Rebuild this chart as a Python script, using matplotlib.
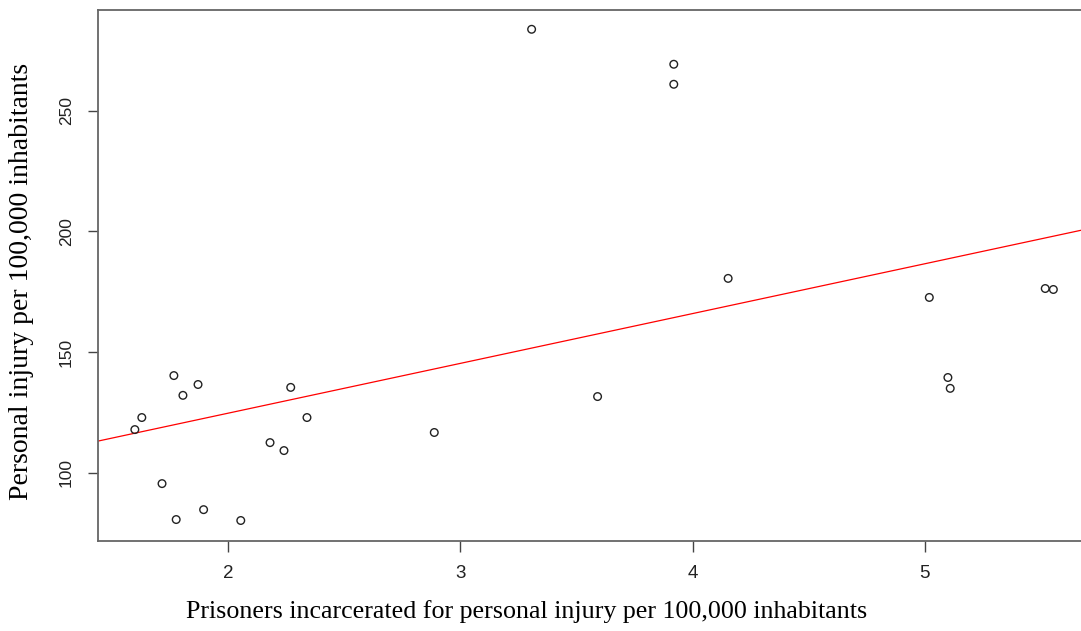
import matplotlib
matplotlib.use("Agg")
import matplotlib.pyplot as plt
import numpy as np

# prisoners incarcerated for personal injury per 100,000 inhabitants
prisoners = [1.599, 1.629, 1.767, 1.806, 1.871, 1.716, 1.777, 1.895, 2.055,
             2.181, 2.241, 2.270, 2.340, 2.888, 3.307, 3.591, 3.919, 3.919,
             4.153, 5.019, 5.099, 5.109, 5.518, 5.553]
# personal injury per 100,000 inhabitants
injury = [117.8, 122.8, 140.2, 132.0, 136.5, 95.4, 80.5, 84.6, 80.1,
          112.4, 109.1, 135.3, 122.8, 116.6, 283.8, 131.5, 269.3, 261.0,
          180.5, 172.6, 139.4, 134.9, 176.3, 175.9]

x_ticks = [2, 3, 4, 5]
y_ticks = [100, 150, 200, 250]

x = np.array(prisoners)
y = np.array(injury)
slope, intercept = np.polyfit(x, y, 1)

fig = plt.figure(figsize=(10.81, 6.31), dpi=100)
ax = fig.add_axes([98 / 1081, 90 / 631, 1 - 98 / 1081, 531 / 631])

ax.scatter(x, y, s=30, facecolors="none", edgecolors="#222222", linewidths=1.0, zorder=3)

xlim = (1.4404, 5.672)
line_x = np.array(xlim)
ax.plot(line_x, intercept + slope * line_x, color="red", linewidth=0.9, zorder=2)

ax.set_xlim(*xlim)
ax.set_ylim(71.6, 291.8)
ax.set_xticks(x_ticks)
ax.set_yticks(y_ticks)
ax.set_xticklabels([str(v) for v in x_ticks], fontfamily="Liberation Sans", fontsize=13.5,
                   color="#222222")
ax.set_yticklabels([str(v) for v in y_ticks], fontfamily="Liberation Sans", fontsize=12.5,
                   rotation=90, va="center", color="#222222")
ax.tick_params(axis="x", length=8, width=1, color="#444444", pad=9)
ax.tick_params(axis="y", length=7.2, width=1, color="#444444", pad=10)
for side in ["left", "bottom", "top"]:
    ax.spines[side].set_color("#666666")
    ax.spines[side].set_linewidth(1.3)
ax.spines["right"].set_visible(False)

fig.text(527 / 1081, 1 - 612 / 631, "Prisoners incarcerated for personal injury per 100,000 inhabitants",
         ha="center", va="center", fontfamily="Liberation Serif", fontsize=18.7)
fig.text(22 / 1081, 1 - 281 / 631, "Personal injury per 100,000 inhabitants",
         ha="center", va="center", rotation=90, fontfamily="Liberation Serif", fontsize=20)

fig.savefig("out.png", dpi=100)
